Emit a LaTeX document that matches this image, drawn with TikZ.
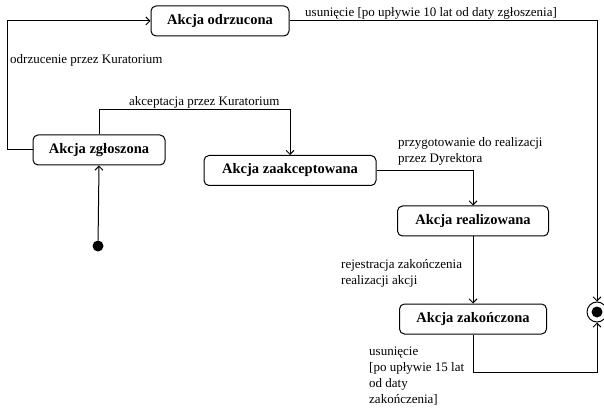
\documentclass[tikz,border=0pt]{standalone}
\usepackage{fontspec}
\setmainfont{Liberation Serif}
\usetikzlibrary{arrows.meta, positioning}

\begin{document}
\begin{tikzpicture}[
    x=1pt, y=-1pt,
    state/.style={
        rectangle, rounded corners=5pt, draw=black, line width=1pt,
        minimum height=30pt, inner sep=3pt,
        font=\fontsize{14.5}{16}\selectfont\bfseries
    },
    trans/.style={font=\fontsize{13}{16}\selectfont, align=left,
        anchor=west, inner sep=0pt},
    arr/.style={-{Straight Barb[length=4pt, width=8pt]}, line width=1pt},
]
\useasboundingbox (0,0) rectangle (604,411);

% ===================================================================
% STATES
% ===================================================================
\node[state, minimum width=138pt] (odr)  at (220,21)  {Akcja odrzucona};
\node[state, minimum width=132pt] (zgl)  at (99,150)  {Akcja zgłoszona};
\node[state, minimum width=172pt] (zaak) at (290,170.5) {Akcja zaakceptowana};
\node[state, minimum width=151pt] (real) at (473,221) {Akcja realizowana};
\node[state, minimum width=147pt] (zak)  at (473,319) {Akcja zakończona};

% start / end
\node[circle, fill=black, inner sep=0pt, minimum size=11pt] (init) at (98,246) {};
\node[circle, draw=black, line width=1pt, inner sep=0pt, minimum size=20pt]
    (fin) at (597,312) {};
\node[circle, fill=black, inner sep=0pt, minimum size=11pt] at (fin) {};

% ===================================================================
% TRANSITIONS
% ===================================================================
\draw[arr] (init) -- (zgl.south);

\draw[arr] (zgl.west) -- ++(-25,0) |- (odr.west);
\node[trans] (lodr) at (10,60) {odrzucenie przez Kuratorium};

\draw[arr] (zgl.north) -- ++(0,-25) -| (zaak.north);
\node[trans] (lakc) at (129,102) {akceptacja przez Kuratorium};

\draw[arr] (odr.east) -| (fin.north);
\node[trans] (lusu1) at (305,13) {usunięcie [po upływie 10 lat od daty zgłoszenia]};

\draw[arr] (zaak.east) -| (real.north);
\node[trans] (lprz) at (398,151) {przygotowanie do realizacji\\przez Dyrektora};

\draw[arr] (real.south) -- (zak.north);
\node[trans] (lrej) at (341,273) {rejestracja zakończenia\\realizacji akcji};

\draw[arr] (zak.south) -- ++(0,38) -| (fin.south);
\node[trans] (lusu2) at (369,376) {usunięcie\\{[po upływie 15 lat}\\od daty\\zakończenia]};

\end{tikzpicture}
\end{document}
